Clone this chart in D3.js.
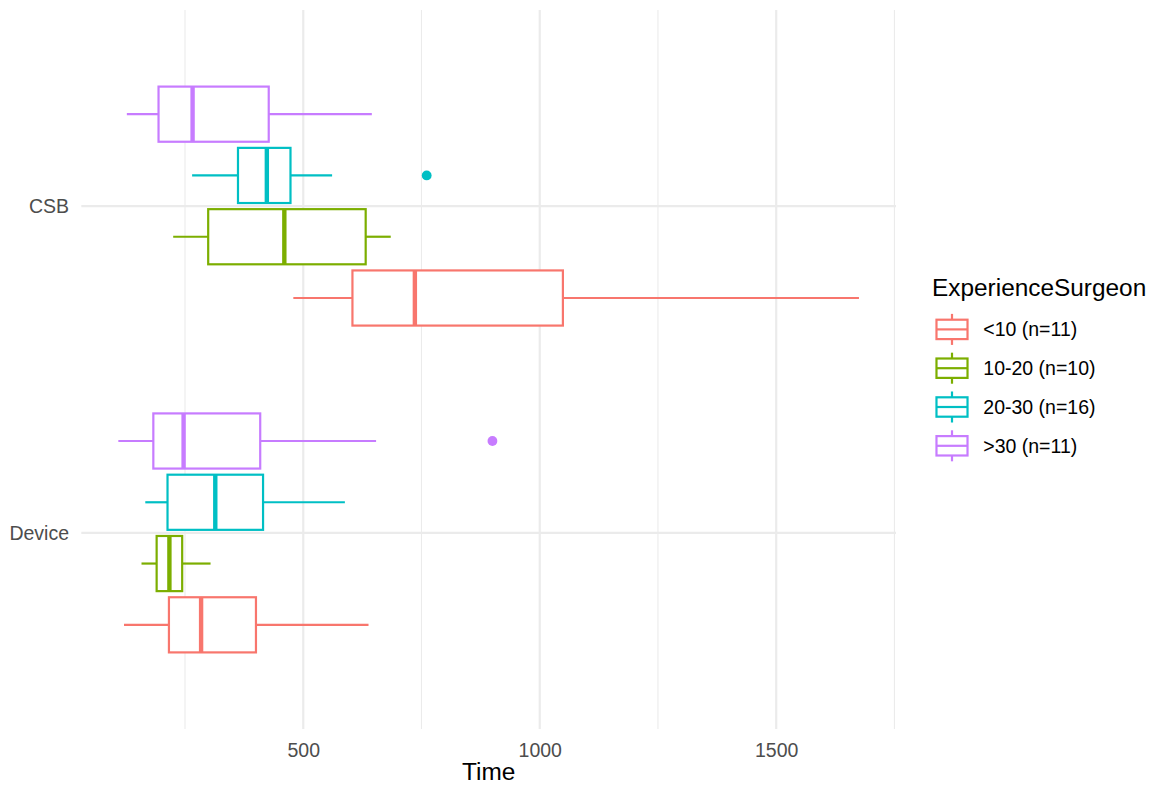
<!DOCTYPE html>
<html>
<head>
<meta charset="utf-8">
<script src="https://cdn.jsdelivr.net/npm/d3@7"></script>
<style>
  html, body { margin: 0; padding: 0; background: #fff; }
  text { font-family: "Liberation Sans", Arial, sans-serif; }
</style>
</head>
<body>
<svg id="chart" width="1154" height="785"></svg>
<script>
// ---- Data ----
const categories = ["CSB", "Device"];
const groups = ["<10 (n=11)", "10-20 (n=10)", "20-30 (n=16)", ">30 (n=11)"];
const colors = ["#F8766D", "#7CAE00", "#00BFC4", "#C77CFF"];

// per group order: <10, 10-20, 20-30, >30
const csbLow    = [479, 225, 265, 127];
const csbQ1     = [604, 299, 362, 194];
const csbMedian = [736, 460, 423, 266];
const csbQ3     = [1049, 632, 473, 427];
const csbHigh   = [1675, 685, 561, 645];

const deviceLow    = [121, 158, 166, 109];
const deviceQ1     = [216, 190, 213, 183];
const deviceMedian = [284, 217, 314, 247];
const deviceQ3     = [400, 244, 415, 409];
const deviceHigh   = [638, 304, 588, 654];

const outlierCategory = ["CSB", "Device"];
const outlierGroup    = ["20-30 (n=16)", ">30 (n=11)"];
const outlierValue    = [761, 900];

const xTicksMajor = [500, 1000, 1500];
const xTicksMinor = [250, 750, 1250, 1750];
const xTitle = "Time";
const legendTitle = "ExperienceSurgeon";

// ---- Build rows ----
const stats = {
  CSB:    {low: csbLow, q1: csbQ1, med: csbMedian, q3: csbQ3, high: csbHigh},
  Device: {low: deviceLow, q1: deviceQ1, med: deviceMedian, q3: deviceQ3, high: deviceHigh}
};
const rows = [];
categories.forEach(c => groups.forEach((g, i) => rows.push({
  cat: c, group: g, color: colors[i],
  low: stats[c].low[i], q1: stats[c].q1[i], med: stats[c].med[i],
  q3: stats[c].q3[i], high: stats[c].high[i]
})));
const outliers = outlierValue.map((v, i) => ({cat: outlierCategory[i], group: outlierGroup[i], value: v,
  color: colors[groups.indexOf(outlierGroup[i])]}));

// ---- Layout ----
const panel = {left: 81.3, right: 896, top: 10, bottom: 729};
const svg = d3.select("#chart");

const allVals = rows.flatMap(r => [r.low, r.high]).concat(outlierValue);
const vmin = d3.min(allVals), vmax = d3.max(allVals);
const pad = (vmax - vmin) * 0.05;
const x = d3.scaleLinear().domain([vmin - pad, vmax + pad]).range([panel.left, panel.right]);

const y = d3.scalePoint().domain(categories).range([panel.top, panel.bottom]).padding(0.6);
const step = y.step();
const sub = d3.scaleBand().domain(groups.slice().reverse())
  .range([-0.375 * step, 0.375 * step]).paddingInner(0.1).paddingOuter(0.05);

const gridCol = "#EBEBEB";
// minor grid
svg.append("g").selectAll("line").data(xTicksMinor).join("line")
  .attr("x1", d => x(d)).attr("x2", d => x(d))
  .attr("y1", panel.top).attr("y2", panel.bottom)
  .attr("stroke", gridCol).attr("stroke-width", 1.1);
// major grid
svg.append("g").selectAll("line").data(xTicksMajor).join("line")
  .attr("x1", d => x(d)).attr("x2", d => x(d))
  .attr("y1", panel.top).attr("y2", panel.bottom)
  .attr("stroke", gridCol).attr("stroke-width", 2.2);
svg.append("g").selectAll("line").data(categories).join("line")
  .attr("x1", panel.left).attr("x2", panel.right)
  .attr("y1", d => y(d)).attr("y2", d => y(d))
  .attr("stroke", gridCol).attr("stroke-width", 2.2);

// ---- Axes ----
const xAxis = d3.axisBottom(x).tickValues(xTicksMajor).tickSize(0).tickPadding(0).tickFormat(d3.format("d"));
const gx = svg.append("g").attr("transform", `translate(0,${panel.bottom})`).call(xAxis);
gx.select(".domain").remove();
gx.selectAll("text").attr("dy", null).attr("y", 28)
  .attr("font-size", 19.5).attr("fill", "#4D4D4D")
  .attr("font-family", "'Liberation Sans', Arial, sans-serif");

const yAxis = d3.axisLeft(y).tickSize(0).tickPadding(0);
const gy = svg.append("g").attr("transform", `translate(69,0)`).call(yAxis);
gy.select(".domain").remove();
gy.selectAll("text").attr("x", 0).attr("dy", "0.35em")
  .attr("font-size", 19.5).attr("fill", "#4D4D4D")
  .attr("font-family", "'Liberation Sans', Arial, sans-serif");

svg.append("text").attr("x", (panel.left + panel.right) / 2).attr("y", 780)
  .attr("text-anchor", "middle").attr("font-size", 24.4).attr("fill", "#000")
  .text(xTitle);

// ---- Boxes ----
const lw = 2.2;
const boxes = svg.append("g").selectAll("g").data(rows).join("g")
  .attr("transform", d => `translate(0,${y(d.cat) + sub(d.group) + sub.bandwidth() / 2})`);
const hw = sub.bandwidth() / 2;
boxes.append("line").attr("x1", d => x(d.low)).attr("x2", d => x(d.q1))
  .attr("stroke", d => d.color).attr("stroke-width", lw);
boxes.append("line").attr("x1", d => x(d.q3)).attr("x2", d => x(d.high))
  .attr("stroke", d => d.color).attr("stroke-width", lw);
boxes.append("rect").attr("x", d => x(d.q1)).attr("width", d => x(d.q3) - x(d.q1))
  .attr("y", -hw).attr("height", 2 * hw)
  .attr("fill", "#fff").attr("stroke", d => d.color).attr("stroke-width", lw);
boxes.append("line").attr("x1", d => x(d.med)).attr("x2", d => x(d.med))
  .attr("y1", -hw).attr("y2", hw)
  .attr("stroke", d => d.color).attr("stroke-width", lw * 2);

svg.append("g").selectAll("circle").data(outliers).join("circle")
  .attr("cx", d => x(d.value))
  .attr("cy", d => y(d.cat) + sub(d.group) + sub.bandwidth() / 2)
  .attr("r", 4.9).attr("fill", d => d.color);

// ---- Legend ----
const lg = svg.append("g");
lg.append("text").attr("x", 932).attr("y", 296).attr("font-size", 24.4).attr("fill", "#000").text(legendTitle);
const keySize = 38.8, keyX = 932.6, keyY0 = 310;
const items = lg.selectAll("g.item").data(groups).join("g").attr("class", "item")
  .attr("transform", (d, i) => `translate(${keyX},${keyY0 + i * keySize})`);
items.append("line").attr("x1", keySize / 2).attr("x2", keySize / 2)
  .attr("y1", keySize * 0.1).attr("y2", keySize * 0.25)
  .attr("stroke", (d, i) => colors[i]).attr("stroke-width", lw);
items.append("line").attr("x1", keySize / 2).attr("x2", keySize / 2)
  .attr("y1", keySize * 0.75).attr("y2", keySize * 0.9)
  .attr("stroke", (d, i) => colors[i]).attr("stroke-width", lw);
items.append("rect").attr("x", keySize * 0.1).attr("y", keySize * 0.25)
  .attr("width", keySize * 0.8).attr("height", keySize * 0.5)
  .attr("fill", "#fff").attr("stroke", (d, i) => colors[i]).attr("stroke-width", lw);
items.append("line").attr("x1", keySize * 0.1).attr("x2", keySize * 0.9)
  .attr("y1", keySize / 2).attr("y2", keySize / 2)
  .attr("stroke", (d, i) => colors[i]).attr("stroke-width", lw);
items.append("text").attr("x", 983.3 - keyX).attr("y", keySize / 2).attr("dy", "0.35em")
  .attr("font-size", 19.5).attr("fill", "#000").text(d => d);
</script>
</body>
</html>
